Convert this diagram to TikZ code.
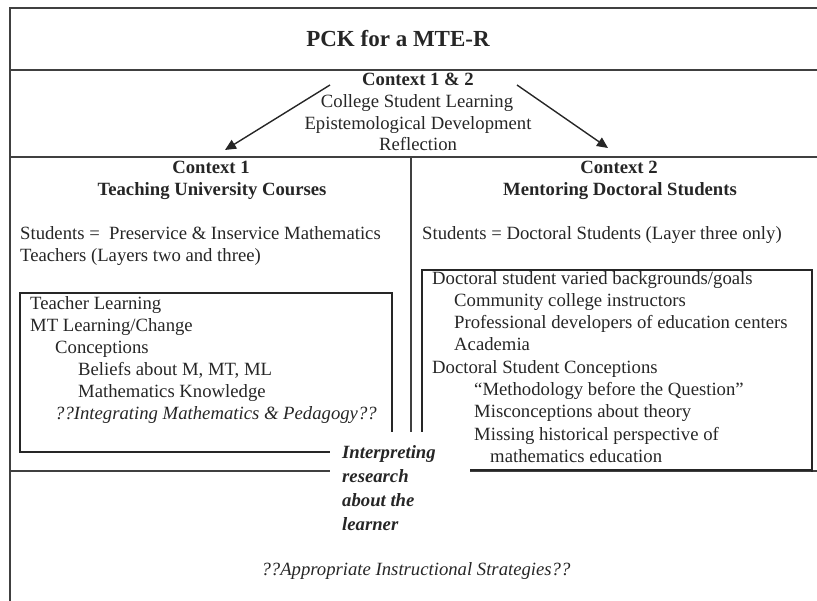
\documentclass[tikz,border=0pt]{standalone}
\usepackage{fontspec}
\setmainfont{Liberation Serif}
\usetikzlibrary{arrows.meta}
\begin{document}
\begin{tikzpicture}[x=1pt,y=-1pt,
    every node/.style={inner sep=0pt, text=black!85, font=\fontsize{18.7}{21.5}\selectfont},
    rule/.style={draw=black!75, line width=1.8pt},
    frame/.style={draw=black!85, line width=1.5pt},
    head/.style={font=\fontsize{18.7}{21.5}\selectfont\bfseries},
    item/.style={anchor=mid west},
    arr/.style={draw=black!85, line width=1.4pt, -{Triangle[length=11pt,width=10pt]}}]
  \useasboundingbox (0,0) rectangle (817,601);
  % outer frame and section rules
  \draw[rule] (817,8) -- (10,8) -- (10,601);
  \draw[rule] (10,70) -- (817,70);
  \draw[rule] (10,157) -- (817,157);
  \draw[rule] (411,157) -- (411,432);
  \draw[rule] (10,471) -- (330,471);
  \draw[rule] (470,471) -- (817,471);
  % inner boxes
  \draw[frame] (392,432) -- (392,293) -- (20,293) -- (20,452) -- (330,452);
  \draw[frame] (422,432) -- (422,270) -- (812,270) -- (812,472);
  \draw[frame] (470,470) -- (812,470);
  % title and shared context
  \node[font=\fontsize{23}{26}\selectfont\bfseries] (title) at (398,39) {PCK for a MTE-R};
  \node[head, anchor=mid] (both) at (418,83) {Context 1 \& 2};
  \node[anchor=mid] (csl) at (417,105) {College Student Learning};
  \node[anchor=mid] (epi) at (418,127) {Epistemological Development};
  \node[anchor=mid] (refl) at (418,148) {Reflection};
  % context 1
  \node[head, anchor=mid] (ctx1) at (211,171) {Context 1};
  \node[head, anchor=mid] (teach) at (212,193) {Teaching University Courses};
  \node[item] (stu1) at (20,237) {Students =\ \ Preservice \& Inservice Mathematics};
  \node[item] (stu1b) at (20,259) {Teachers (Layers two and three)};
  \node[item] (tl) at (30,307) {Teacher Learning};
  \node[item] (mtl) at (30,329) {MT Learning/Change};
  \node[item] (conc) at (55,351) {Conceptions};
  \node[item] (bel) at (78,373) {Beliefs about M, MT, ML};
  \node[item] (mk) at (78,395) {Mathematics Knowledge};
  \node[item, font=\fontsize{18.7}{21.5}\selectfont\itshape] (integ) at (55,417) {??Integrating Mathematics \& Pedagogy??};
  % context 2
  \node[head, anchor=mid] (ctx2) at (619,171) {Context 2};
  \node[head, anchor=mid] (mentor) at (620,193) {Mentoring Doctoral Students};
  \node[item] (stu2) at (422,237) {Students = Doctoral Students (Layer three only)};
  \node[item] (dsv) at (432,282) {Doctoral student varied backgrounds/goals};
  \node[item] (cci) at (454,304) {Community college instructors};
  \node[item] (pdev) at (454,326) {Professional developers of education centers};
  \node[item] (acad) at (454,348) {Academia};
  \node[item] (dsc) at (432,371) {Doctoral Student Conceptions};
  \node[item] (meth) at (474,393) {``Methodology before the Question''};
  \node[item] (misc) at (474,415) {Misconceptions about theory};
  \node[item] (miss) at (474,438) {Missing historical perspective of};
  \node[item] (mathed) at (490,460) {mathematics education};
  % centre and bottom
  \node[item, font=\fontsize{18.7}{24}\selectfont\bfseries\itshape, align=left, anchor=north west] (interp) at (342,445) {Interpreting\\research\\about the\\learner};
  \node[anchor=mid, font=\fontsize{18.7}{21.5}\selectfont\itshape] (strat) at (416,573) {??Appropriate Instructional Strategies??};
  % arrows
  \coordinate (fromL) at (330,85);
  \coordinate (toL) at (225,150);
  \coordinate (fromR) at (517,85);
  \coordinate (toR) at (608,148);
  \draw[arr] (fromL) -- (toL);
  \draw[arr] (fromR) -- (toR);
\end{tikzpicture}
\end{document}
